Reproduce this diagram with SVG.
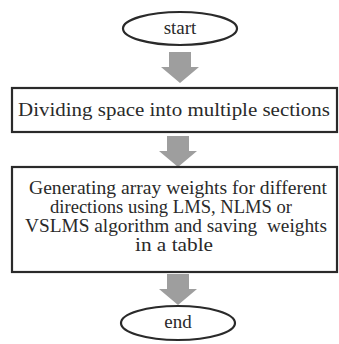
<svg xmlns="http://www.w3.org/2000/svg" width="339" height="344" viewBox="0 0 339 344">
<style>
.shape{fill:#fff;stroke:#2a2a2a;stroke-width:2.2}
.arr{fill:#9e9e9e;stroke:none}
.t{fill:#2a2a2a;text-anchor:middle;font-size:19px}
</style>
<defs>
<path id="bigarrow" d="M-11,0 H11 V15 H19 L0,31 L-19,15 H-11 Z"/>
</defs>
<rect width="339" height="344" fill="#fff"/>
<g id="connectors">
<use href="#bigarrow" class="arr" x="180" y="52"/>
<use href="#bigarrow" class="arr" x="178" y="136"/>
<use href="#bigarrow" class="arr" x="178" y="274"/>
</g>
<g font-family="Liberation Serif, Times New Roman, Times, serif">
<g id="start">
<ellipse class="shape" cx="180" cy="28.5" rx="57" ry="16.5"/>
<text class="t" x="180" y="34">start</text>
</g>
<g id="divide">
<rect class="shape" x="12" y="88" width="325" height="44"/>
<text class="t" x="174" y="116" textLength="312" lengthAdjust="spacingAndGlyphs">Dividing space into multiple sections</text>
</g>
<g id="generate">
<rect class="shape" x="12" y="167" width="325" height="105"/>
<text class="t" x="178" y="194" textLength="298" lengthAdjust="spacingAndGlyphs">Generating array weights for different</text>
<text class="t" x="171" y="213" textLength="242" lengthAdjust="spacingAndGlyphs">directions using LMS, NLMS or</text>
<text class="t" x="176" y="232" xml:space="preserve" textLength="302" lengthAdjust="spacingAndGlyphs">VSLMS algorithm and saving  weights</text>
<text class="t" x="174" y="251" textLength="78" lengthAdjust="spacingAndGlyphs">in a table</text>
</g>
<g id="end">
<ellipse class="shape" cx="178" cy="323" rx="57" ry="17"/>
<text class="t" x="178" y="328">end</text>
</g>
</g>
</svg>
